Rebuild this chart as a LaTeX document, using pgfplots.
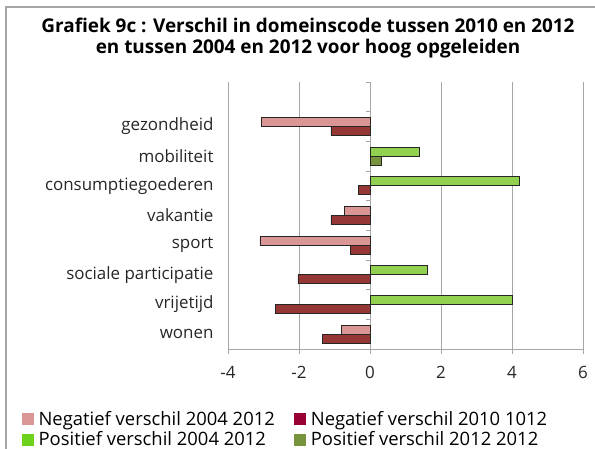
\documentclass[border=0pt]{standalone}
\usepackage{pgfplots}
\pgfplotsset{compat=1.18}
\usepackage{fontspec}
\setmainfont{Open Sans}
\definecolor{negA}{HTML}{D99694}
\definecolor{negB}{HTML}{953735}
\definecolor{posA}{HTML}{92D050}
\definecolor{posB}{HTML}{77933C}
\definecolor{legNegB}{HTML}{990033}
\definecolor{legPosA}{HTML}{6DD21E}
\definecolor{legPosB}{HTML}{77933C}
\definecolor{gridc}{HTML}{A6A6A6}
\begin{document}
\begin{tikzpicture}
\useasboundingbox (0,0) rectangle (595bp,449bp);
\draw[gridc, line width=1.5bp] (6bp,0) -- (6bp,442bp) -- (595bp,442bp);
\node[font=\bfseries\fontsize{19}{22}\selectfont, align=center] at (308bp,411bp)
  {Grafiek 9c : Verschil in domeinscode tussen 2010 en 2012\\en tussen 2004 en 2012 voor hoog opgeleiden};
\begin{axis}[
  at={(228bp,100bp)}, anchor=south west,
  scale only axis, width=355bp, height=267bp,
  xmin=-4, xmax=6, ymin=0.5, ymax=9.5,
  xtick={-4,-2,0,2,4,6},
  ytick={1,2,3,4,5,6,7,8},
  yticklabels={wonen,vrijetijd,sociale participatie,sport,vakantie,consumptiegoederen,mobiliteit,gezondheid},
  axis x line*=bottom, axis y line*=left,
  y axis line style={draw=none},
  x axis line style={gridc, line width=0.8bp},
  ytick style={draw=none},
  xtick style={gridc, line width=0.8bp},
  xtick align=outside, major tick length=5bp,
  xmajorgrids, grid style={gridc, line width=0.8bp},
  tick label style={font=\fontsize{17}{20}\selectfont, text=black!85},
  /pgf/number format/assume math mode=true,
  yticklabel style={xshift=-6bp},
  xticklabel style={yshift=-9bp},
  xbar, bar width=9bp,
  legend columns=2,
  legend cell align=left,
  legend style={at={(-0.582,-0.225)}, anchor=north west, draw=none, fill=none,
    font=\fontsize{18.5}{21}\selectfont, inner sep=0pt,
    /tikz/every even column/.append style={column sep=17bp},
    /tikz/every odd column/.append style={column sep=3bp},
    row sep=1bp},
  legend image code/.code={\path[#1] (0bp,-6bp) rectangle (12bp,6bp);},
]
\draw[gridc, line width=0.8bp] (axis cs:0,0.5) -- (axis cs:0,9.5);
\pgfplotsinvokeforeach{0.5,1.5,2.5,3.5,4.5,5.5,6.5,7.5,8.5,9.5}{
  \draw[gridc, line width=0.8bp] (axis cs:0,#1) -- ([xshift=-4bp]axis cs:0,#1);
}
\addplot[forget plot, fill=negA, draw=black!85, line width=0.8bp, bar shift=4.5bp]
  coordinates {(-3.07,8) (-0.72,5) (-3.10,4) (-0.81,1)};
\addplot[forget plot, fill=negB, draw=black!85, line width=0.8bp, bar shift=-4.5bp]
  coordinates {(-1.10,8) (-0.32,6) (-1.10,5) (-0.56,4) (-2.03,3) (-2.66,2) (-1.35,1)};
\addplot[forget plot, fill=posA, draw=black!85, line width=0.8bp, bar shift=4.5bp]
  coordinates {(1.38,7) (4.20,6) (1.62,3) (4.01,2)};
\addplot[forget plot, fill=posB, draw=black!85, line width=0.8bp, bar shift=-4.5bp]
  coordinates {(0.32,7)};
\addlegendimage{fill=negA, draw=none}
\addlegendentry{Negatief verschil 2004 2012}
\addlegendimage{fill=legNegB, draw=none}
\addlegendentry{Negatief verschil 2010 1012}
\addlegendimage{fill=legPosA, draw=none}
\addlegendentry{Positief verschil 2004 2012}
\addlegendimage{fill=legPosB, draw=none}
\addlegendentry{Positief verschil 2012 2012}
\end{axis}
\end{tikzpicture}
\end{document}
